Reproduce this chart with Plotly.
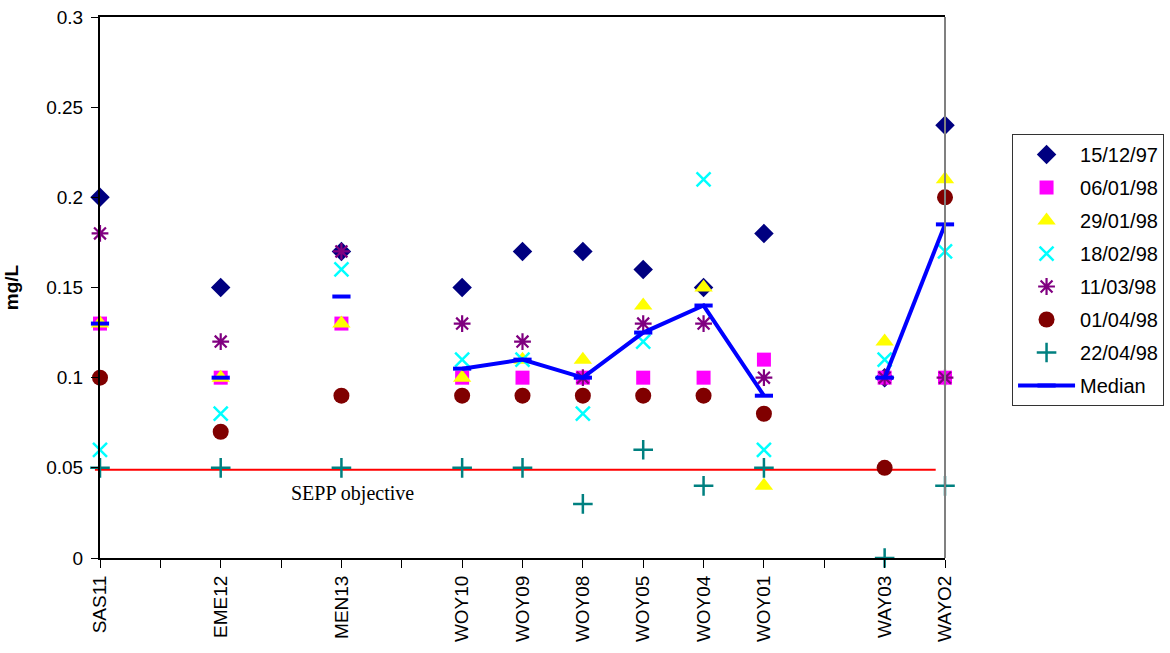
import plotly.graph_objects as go

# ---- data ----
categories = ["SAS11", "", "EME12", "", "MEN13", "", "WOY10", "WOY09", "WOY08",
              "WOY05", "WOY04", "WOY01", "", "WAY03", "WAYO2"]
sites = ["SAS11", "EME12", "MEN13", "WOY10", "WOY09", "WOY08", "WOY05", "WOY04",
         "WOY01", "WAY03", "WAYO2"]

d_151297 = [0.20, 0.15, 0.17, 0.15, 0.17, 0.17, 0.16, 0.15, 0.18, 0.10, 0.24]
d_060198 = [0.13, 0.10, 0.13, 0.10, 0.10, 0.10, 0.10, 0.10, 0.11, 0.10, 0.10]
d_290198 = [0.13, 0.10, 0.13, 0.10, 0.11, 0.11, 0.14, 0.15, 0.04, 0.12, 0.21]
d_180298 = [0.06, 0.08, 0.16, 0.11, 0.11, 0.08, 0.12, 0.21, 0.06, 0.11, 0.17]
d_110398 = [0.18, 0.12, 0.17, 0.13, 0.12, 0.10, 0.13, 0.13, 0.10, 0.10, 0.10]
d_010498 = [0.10, 0.07, 0.09, 0.09, 0.09, 0.09, 0.09, 0.09, 0.08, 0.05, 0.20]
d_220498 = [0.05, 0.05, 0.05, 0.05, 0.05, 0.03, 0.06, 0.04, 0.05, 0.00, 0.04]
median = [0.13, 0.10, 0.145, 0.105, 0.11, 0.10, 0.125, 0.14, 0.09, 0.10, 0.185]

SEPP_OBJECTIVE = 0.049

series = [
    ("15/12/97", d_151297, dict(symbol="diamond", color="#000080", size=15)),
    ("06/01/98", d_060198, dict(symbol="square", color="#FF00FF", size=14)),
    ("29/01/98", d_290198, dict(symbol="triangle-up", color="#FFFF00", size=16)),
    ("18/02/98", d_180298, dict(symbol="x-thin-open", color="#00FFFF", size=14,
                                line=dict(color="#00FFFF", width=2.5))),
    ("11/03/98", d_110398, dict(symbol="asterisk-open", color="#800080", size=14,
                                line=dict(color="#800080", width=2.2))),
    ("01/04/98", d_010498, dict(symbol="circle", color="#800000", size=16)),
    ("22/04/98", d_220498, dict(symbol="cross-thin-open", color="#008080", size=14,
                                line=dict(color="#008080", width=2.5))),
]

# map each site to its position on the category axis
site_x = [categories.index(s) for s in sites]

fig = go.Figure()
for name, vals, mk in series:
    fig.add_trace(go.Scatter(x=site_x, y=vals, mode="markers", name=name,
                             legendgroup=name, marker=mk, cliponaxis=False))

# median line: broken at blank categories
med_x = list(range(len(categories)))
med_y = [None] * len(categories)
for xi, v in zip(site_x, median):
    med_y[xi] = v
fig.add_trace(go.Scatter(x=med_x, y=med_y, mode="lines+markers", name="Median",
                         legendgroup="Median",
                         line=dict(color="#0000FF", width=4),
                         marker=dict(symbol="line-ew", size=13,
                                     line=dict(color="#0000FF", width=4)),
                         connectgaps=False, cliponaxis=False))

FONT = "Liberation Sans, Arial, sans-serif"

fig.update_layout(
    width=1170, height=653,
    margin=dict(l=100, r=225, t=17, b=95, autoexpand=False),
    paper_bgcolor="white", plot_bgcolor="white",
    font=dict(family=FONT, size=19, color="black"),
    showlegend=True,
    legend=dict(xref="container", yref="container",
                x=0.865, xanchor="left", y=0.5865, yanchor="middle",
                bgcolor="white", bordercolor="#333333", borderwidth=1,
                font=dict(family=FONT, size=20, color="black"),
                itemwidth=57, tracegroupgap=4),
    xaxis=dict(range=[0, len(categories) - 1], tickmode="array",
               tickvals=list(range(len(categories))), ticktext=categories,
               tickangle=-90, showgrid=False, zeroline=False, automargin=False,
               showline=True, linecolor="black", linewidth=2, mirror=True,
               ticks="outside", ticklen=8, tickcolor="black", tickwidth=1,
               tickfont=dict(family=FONT, size=19)),
    yaxis=dict(range=[0, 0.3], dtick=0.05, showgrid=False, zeroline=False,
               automargin=False,
               showline=True, linecolor="black", linewidth=2,
               ticks="outside", ticklen=7, tickcolor="black", tickwidth=1,
               ticklabelstandoff=4,
               tickfont=dict(family=FONT, size=19),
               title=dict(text="<b>mg/L</b>", font=dict(family=FONT, size=19),
                          standoff=23)),
)

# right plot border (gray)
fig.add_shape(type="line", xref="paper", yref="paper", x0=1, x1=1, y0=0, y1=1,
              line=dict(color="#808080", width=2))

# SEPP objective line
fig.add_shape(type="line", xref="paper", yref="y", x0=-0.006, x1=0.989,
              y0=SEPP_OBJECTIVE, y1=SEPP_OBJECTIVE, line=dict(color="#FF0000", width=2),
              layer="below")
fig.add_annotation(text="SEPP objective", xref="paper", yref="paper",
                   x=0.2994, y=0.12, xanchor="center", yanchor="middle",
                   showarrow=False,
                   font=dict(family="Liberation Serif, Times New Roman, serif",
                             size=20, color="black"))

fig.write_html("out.html")
